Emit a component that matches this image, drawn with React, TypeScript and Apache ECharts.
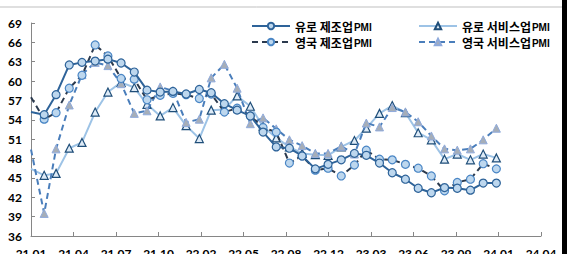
import React, { useEffect, useRef } from "react";
import * as echarts from "echarts";

// Months plotted (Dec 2020 .. Dec 2023), Dec 2023 = flash estimates
const months = [
  "2020-12",
  "2021-01", "2021-02", "2021-03", "2021-04", "2021-05", "2021-06", "2021-07", "2021-08", "2021-09", "2021-10", "2021-11", "2021-12",
  "2022-01", "2022-02", "2022-03", "2022-04", "2022-05", "2022-06", "2022-07", "2022-08", "2022-09", "2022-10", "2022-11", "2022-12",
  "2023-01", "2023-02", "2023-03", "2023-04", "2023-05", "2023-06", "2023-07", "2023-08", "2023-09", "2023-10", "2023-11", "2023-12",
];

const euroMfg = [
  55.2,
  54.8, 57.9, 62.5, 62.9, 63.1, 63.4, 62.8, 61.4, 58.6, 58.3, 58.4, 58.0,
  58.7, 58.2, 56.5, 55.5, 54.6, 52.1, 49.8, 49.6, 48.4, 46.4, 47.1, 47.8,
  48.8, 48.5, 47.3, 45.8, 44.8, 43.4, 42.7, 43.5, 43.4, 43.1, 44.2, 44.2,
];
const ukMfg = [
  57.5,
  54.1, 55.1, 58.9, 60.9, 65.6, 63.9, 60.4, 60.3, 57.1, 57.8, 58.1, 57.9,
  57.3, 58.0, 55.2, 55.8, 54.6, 52.8, 52.1, 47.3, 48.4, 46.2, 46.5, 45.3,
  47.0, 49.3, 47.9, 47.8, 47.1, 46.5, 45.3, 43.0, 44.3, 44.8, 47.2, 46.4,
];
const euroSvc = [
  46.4,
  45.4, 45.7, 49.6, 50.5, 55.2, 58.3, 59.8, 59.0, 56.4, 54.6, 55.9, 53.1,
  51.1, 55.5, 55.6, 57.7, 56.1, 53.0, 51.2, 49.8, 48.8, 48.6, 48.5, 49.8,
  50.8, 52.7, 55.0, 56.2, 55.1, 52.0, 50.9, 47.9, 48.7, 47.8, 48.7, 48.1,
];
const ukSvc = [
  49.4,
  39.5, 49.5, 56.3, 61.0, 62.9, 62.4, 59.6, 55.0, 55.4, 59.1, 58.5, 53.6,
  54.1, 60.5, 62.6, 58.9, 53.4, 54.3, 52.6, 50.9, 50.0, 48.8, 48.8, 49.9,
  48.7, 53.5, 52.9, 55.9, 55.2, 53.7, 51.5, 49.5, 49.3, 49.5, 50.9, 52.7,
];

// Date axis: ticks every 100 days from 2021-01-01
const xTickLabels = ["21.01", "21.04", "21.07", "21.10", "22.02", "22.05", "22.08", "22.12", "23.03", "23.06", "23.09", "24.01", "24.04"];

const seriesNames = ["유로 제조업 PMI", "영국 제조업 PMI", "유로 서비스업 PMI", "영국 서비스업 PMI"];

const DAY = 86400000;
const origin = Date.UTC(2021, 0, 1);
// Each monthly value is placed at the first day of the following month
function xOf(m: string): number {
  const [y, mo] = m.split("-").map(Number);
  return Math.round((Date.UTC(y, mo, 1) - origin) / DAY);
}

function pairs(vals: number[]) {
  return months.map((m, i) =>
    i === 0 ? { value: [xOf(m), vals[i]], symbol: "none" } : { value: [xOf(m), vals[i]] }
  );
}

const FONT = "Lato, 'Noto Sans CJK KR', sans-serif";
const KFONT = "'Noto Sans CJK KR', sans-serif";

export default function App() {
  const ref = useRef<HTMLDivElement>(null);
  useEffect(() => {
    if (!ref.current) return;
    const chart = echarts.init(ref.current, undefined, { renderer: "svg" });
    const legendText = {
      fontFamily: KFONT,
      rich: {
        a: { fontFamily: KFONT, fontSize: 12, fontWeight: "bold", color: "#000", lineHeight: 16 },
        b: { fontFamily: "'Liberation Sans', sans-serif", fontSize: 10, fontWeight: "bold", color: "#000", lineHeight: 16, padding: [2, 0, 0, 1] },
      },
    };
    const fmt = (name: string) => {
      const idx = name.lastIndexOf(" ");
      return `{a|${name.slice(0, idx)}}{b|${name.slice(idx + 1)}}`;
    };
    chart.setOption({
      animation: false,
      backgroundColor: "#fff",
      grid: { left: 31, right: 26, top: 23, bottom: 18, containLabel: false, outerBoundsMode: "none" },
      legend: [
        {
          data: [seriesNames[0], seriesNames[1]],
          orient: "vertical",
          left: 246,
          top: 15,
          itemGap: 4,
          itemWidth: 38,
          itemHeight: 8,
          formatter: fmt,
          textStyle: legendText,
        },
        {
          data: [seriesNames[2], seriesNames[3]],
          orient: "vertical",
          left: 413,
          top: 15,
          itemGap: 4,
          itemWidth: 38,
          itemHeight: 8,
          formatter: fmt,
          textStyle: legendText,
        },
      ],
      xAxis: {
        type: "value",
        min: 0,
        max: 1200,
        interval: 100,
        axisLine: { show: true, lineStyle: { color: "#868686", width: 1 } },
        axisTick: { show: true, inside: true, length: 4, lineStyle: { color: "#868686" } },
        splitLine: { show: false },
        axisLabel: {
          formatter: (v: number) => xTickLabels[Math.round(v / 100)] ?? "",
          fontFamily: FONT,
          fontWeight: "bold",
          fontSize: 12,
          color: "#000",
          margin: 11,
        },
      },
      yAxis: {
        type: "value",
        min: 36,
        max: 69,
        interval: 3,
        axisLine: { show: true, lineStyle: { color: "#868686", width: 1 } },
        axisTick: { show: true, inside: true, length: 4, lineStyle: { color: "#868686" } },
        splitLine: { show: false },
        axisLabel: {
          fontFamily: FONT,
          fontWeight: "bold",
          fontSize: 12,
          color: "#000",
          margin: 9,
        },
      },
      series: [
        {
          name: seriesNames[2],
          type: "line",
          data: pairs(euroSvc),
          symbol: "triangle",
          symbolSize: 8,
          z: 2,
          lineStyle: { color: "#9DC3E6", width: 2 },
          itemStyle: { color: "#DEEBF7", borderColor: "#1F4E79", borderWidth: 1.2 },
        },
        {
          name: seriesNames[3],
          type: "line",
          data: pairs(ukSvc),
          symbol: "triangle",
          symbolSize: 8,
          z: 3,
          lineStyle: { color: "#4A7EBB", width: 2, type: [6, 4] },
          itemStyle: { color: "#A6AEB8", borderColor: "#8FAADC", borderWidth: 1 },
        },
        {
          name: seriesNames[1],
          type: "line",
          data: pairs(ukMfg),
          symbol: "circle",
          symbolSize: 8,
          z: 4,
          lineStyle: { color: "#2B3A4E", width: 2, type: [6, 4] },
          itemStyle: { color: "#BDD7EE", borderColor: "#4A86C5", borderWidth: 1.2 },
        },
        {
          name: seriesNames[0],
          type: "line",
          data: pairs(euroMfg),
          symbol: "circle",
          symbolSize: 8,
          z: 5,
          lineStyle: { color: "#2E6399", width: 2 },
          itemStyle: { color: "#BDD7EE", borderColor: "#2E6399", borderWidth: 1.2 },
        },
      ],
      graphic: [
        { type: "line", shape: { x1: 0, y1: 7, x2: 562, y2: 7 }, style: { stroke: "#BFBFBF", lineWidth: 1 } },
        { type: "rect", shape: { x: 562, y: 0, width: 5, height: 254 }, style: { fill: "#000" } },
      ],
    });
    return () => chart.dispose();
  }, []);
  return (
    <div
      ref={ref}
      style={{ position: "fixed", left: 0, top: 0, width: 567, height: 254 }}
    />
  );
}
